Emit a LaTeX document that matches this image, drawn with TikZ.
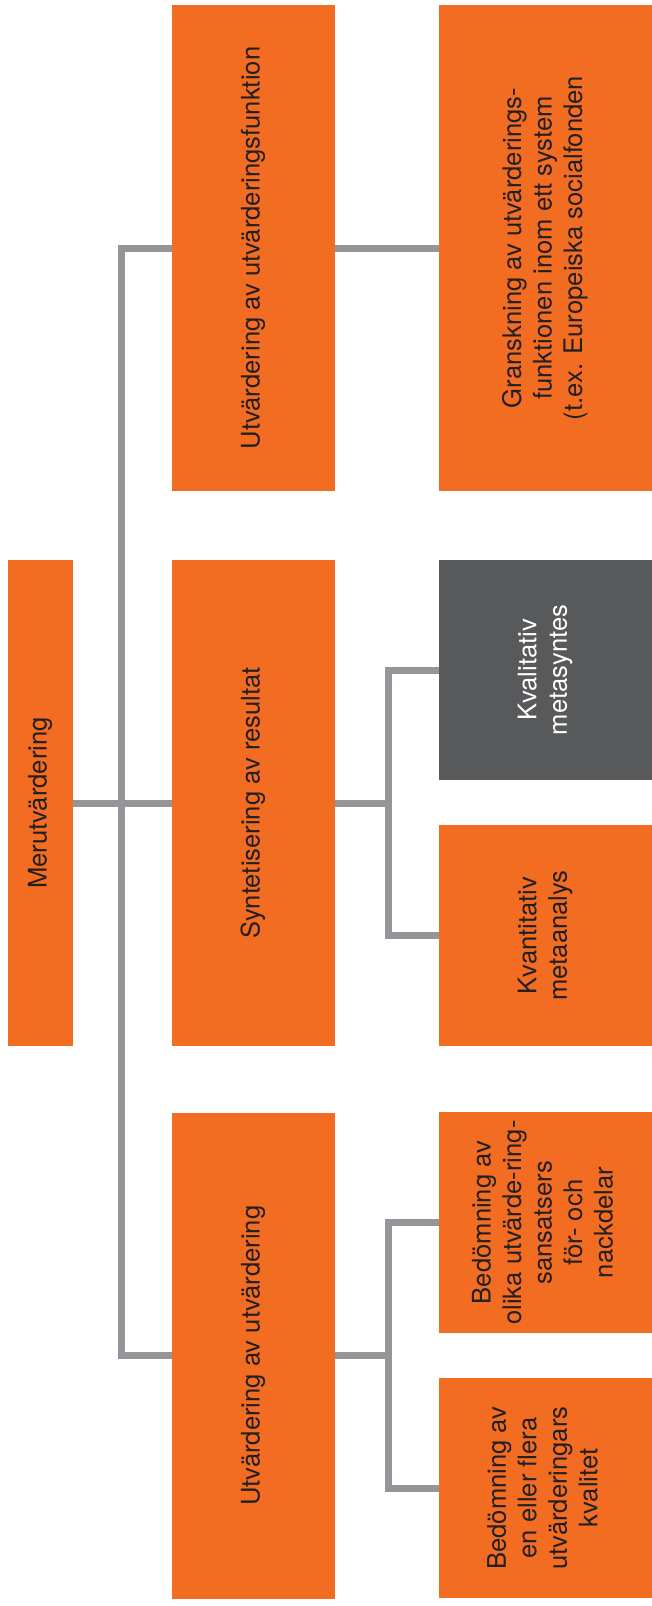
\documentclass[tikz,border=0pt]{standalone}
\usepackage{fontspec}
\setmainfont{TeX Gyre Heros}
\definecolor{orng}{HTML}{F26C22}
\definecolor{dgrey}{HTML}{58595B}
\definecolor{lgrey}{HTML}{939598}
\definecolor{txt}{HTML}{231F20}
\newcommand{\vtext}[1]{\rotatebox{90}{\begin{tabular}{@{}c@{}}#1\end{tabular}}}
\begin{document}
\begin{tikzpicture}[x=1pt,y=-1pt,
  box/.style={fill=orng, text=txt, inner sep=0pt, font=\fontsize{25.6}{30.5}\selectfont},
  darkbox/.style={fill=dgrey, text=white, inner sep=0pt, font=\fontsize{25.6}{30.5}\selectfont},
  colone/.style={minimum width=64.5pt, minimum height=486pt},
  coltwo/.style={minimum width=163pt, minimum height=486pt},
  colthreetall/.style={minimum width=213pt, minimum height=486pt},
  colthree/.style={minimum width=213pt, minimum height=220.5pt},
  conn/.style={draw=lgrey, line width=7pt, line join=miter}]
\useasboundingbox (0,0) rectangle (652,1606);
\fill[white] (0,0) rectangle (652,1606);

\node[box, colone] (mer) at (40.5,803) {\vtext{Merutvärdering}};

\node[box, coltwo] (c2a) at (253.5,248) {\vtext{Utvärdering av utvärderingsfunktion}};
\node[box, coltwo] (c2b) at (253.5,803) {\vtext{Syntetisering av resultat}};
\node[box, coltwo] (c2c) at (253.5,1355.6) {\vtext{Utvärdering av utvärdering}};

\node[box, colthreetall] (c3a) at (545.5,248) {\vtext{Granskning av utvärderings-\\funktionen inom ett system\\(t.ex. Europeiska socialfonden}};
\node[darkbox, colthree] (c3b) at (545.5,670) {\vtext{Kvalitativ\\metasyntes}};
\node[box, colthree] (c3c) at (545.5,935.5) {\vtext{Kvantitativ\\metaanalys}};
\node[box, colthree] (c3d) at (545.5,1222.5) {\vtext{Bedömning av\\olika utvärde-ring-\\sansatsers\\för- och\\nackdelar}};
\node[box, colthree] (c3e) at (545.5,1488) {\vtext{Bedömning av\\en eller flera\\utvärderingars\\kvalitet}};

\coordinate (spine) at (121,0);
\coordinate (sub) at (388,0);

\draw[conn] (mer.east) -- (c2b.west);
\draw[conn] (c2a.west) -| (spine |- c2c.west) -- (c2c.west);
\draw[conn] (c2a.east) -- (c3a.west);
\draw[conn] (c2b.east) -- (sub |- c2b.east);
\draw[conn] (c3b.west) -| (sub |- c3c.west) -- (c3c.west);
\draw[conn] (c2c.east) -- (sub |- c2c.east);
\draw[conn] (c3d.west) -| (sub |- c3e.west) -- (c3e.west);
\end{tikzpicture}
\end{document}
